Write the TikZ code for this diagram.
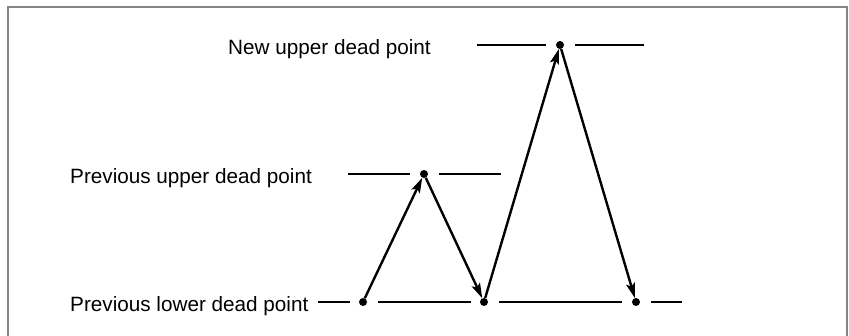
\documentclass[tikz,border=0pt]{standalone}
\usepackage{fontspec}
\setmainfont{Liberation Sans}
\usetikzlibrary{arrows.meta}
\begin{document}
\begin{tikzpicture}[x=1pt,y=-1pt,
  lbl/.style={anchor=base west,inner sep=0pt,font=\fontsize{20.7}{24}\selectfont},
  dot/.style={circle,fill=black,inner sep=0pt,minimum size=8pt},
  level/.style={line width=2.7pt},
  move/.style={line width=2.4pt,-{Stealth[length=15pt,width=9pt,inset=3pt]}},
  frame/.style={draw=black!48,line width=2.4pt}]
\useasboundingbox (0,0) rectangle (849,335);
\draw[frame] (8,336) -- (8,7) -- (847,7) -- (847,336);
% labels
\node[lbl] (tnew) at (228,54.5) {New upper dead point};
\node[lbl] (tpu) at (70,183.5) {Previous upper dead point};
\node[lbl] (tpl) at (70,311.5) {Previous lower dead point};
% dots
\node[dot] (b1) at (363,302) {};
\node[dot] (m) at (424,174) {};
\node[dot] (b2) at (484,302) {};
\node[dot] (t) at (560,45) {};
\node[dot] (b3) at (636,302) {};
% level segments
\coordinate (t1) at (477,45); \coordinate (t2) at (546,45);
\coordinate (t3) at (575,45); \coordinate (t4) at (644,45);
\coordinate (m1) at (348,174); \coordinate (m2) at (410,174);
\coordinate (m3) at (439,174); \coordinate (m4) at (501,174);
\coordinate (l1) at (318,302); \coordinate (l2) at (350,302);
\coordinate (l3) at (378,302); \coordinate (l4) at (471,302);
\coordinate (l5) at (499,302); \coordinate (l6) at (622,302);
\coordinate (l7) at (651,302); \coordinate (l8) at (682,302);
\draw[level] (t1) -- (t2) (t3) -- (t4);
\draw[level] (m1) -- (m2) (m3) -- (m4);
\draw[level] (l1) -- (l2) (l3) -- (l4) (l5) -- (l6) (l7) -- (l8);
% moves
\draw[move] (b1) -- (m);
\draw[move] (m) -- (b2);
\draw[move] (b2) -- (t);
\draw[move] (t) -- (b3);
\end{tikzpicture}
\end{document}
